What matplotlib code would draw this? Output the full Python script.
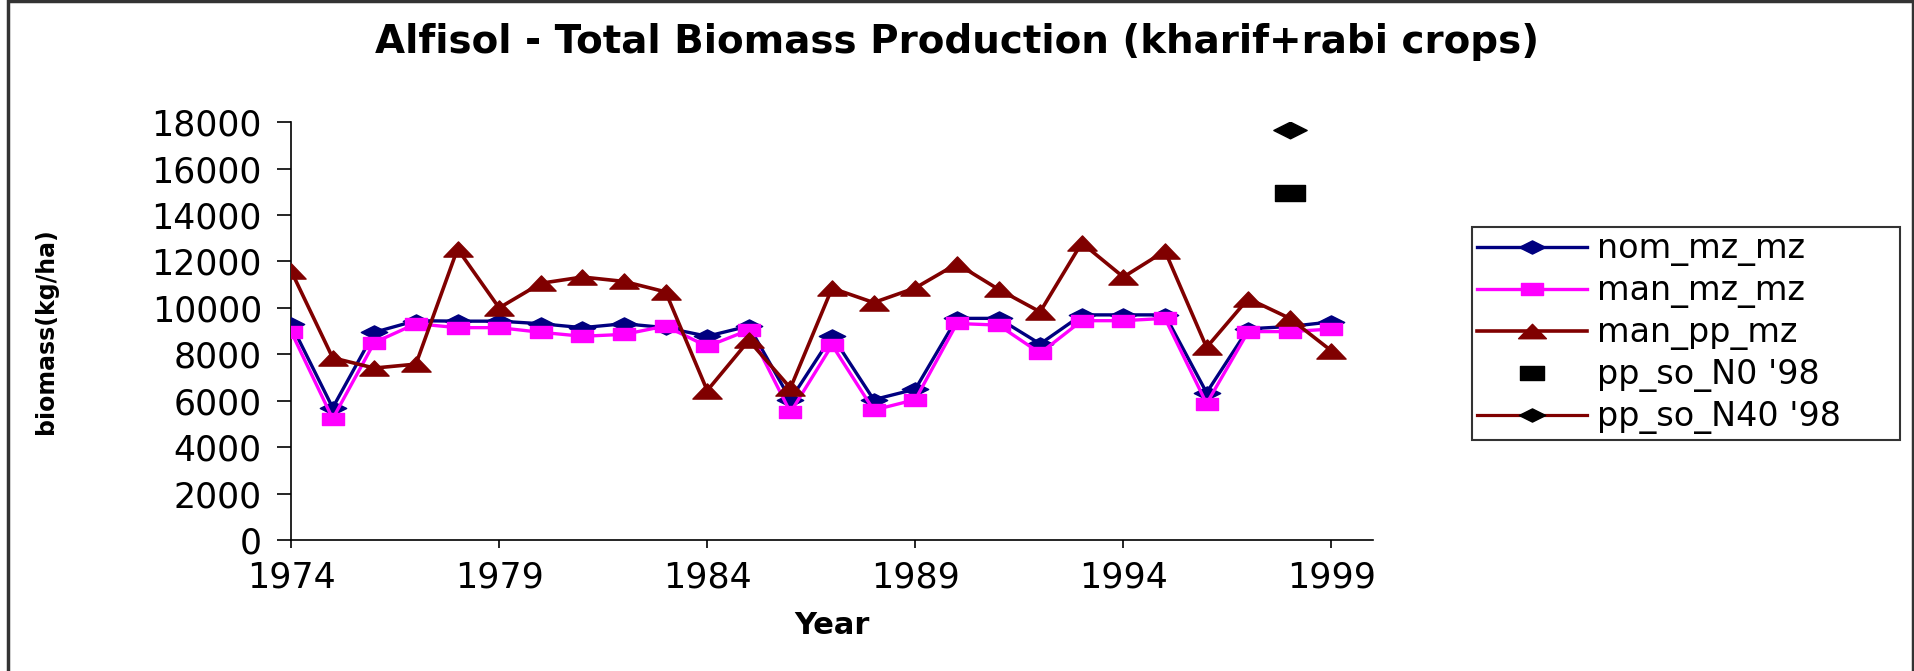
import matplotlib
matplotlib.use("Agg")
import matplotlib.pyplot as plt
from matplotlib.path import Path
from matplotlib.patches import Rectangle

years = list(range(1974, 2000))

nom_mz_mz = [9300, 5700, 8950, 9450, 9430, 9430, 9320, 9150, 9320, 9150, 8780, 9220,
             6050, 8800, 6050, 6500, 9550, 9550, 8450, 9700, 9700, 9700, 6350, 9100,
             9200, 9400]
man_mz_mz = [8980, 5230, 8510, 9320, 9150, 9150, 8950, 8780, 8860, 9220, 8340, 9050,
             5500, 8400, 5600, 6050, 9330, 9260, 8050, 9450, 9450, 9550, 5880, 8980,
             8980, 9090]
man_pp_mz = [11600, 7850, 7410, 7580, 12540, 10000, 11060, 11330, 11140, 10690, 6440, 8600,
             6550, 10850, 10230, 10860, 11900, 10800, 9830, 12800, 11330, 12450, 8300, 10400,
             9550, 8150]

pp_so_year = [1998]
pp_so_N0 = [14950]
pp_so_N40 = [17640]

# flattened marker shapes
flat_diamond = Path([(-1, 0), (0, 0.5), (1, 0), (0, -0.5), (-1, 0)],
                    [Path.MOVETO, Path.LINETO, Path.LINETO, Path.LINETO, Path.CLOSEPOLY])
flat_square = Path([(-1, -0.58), (1, -0.58), (1, 0.58), (-1, 0.58), (-1, -0.58)],
                   [Path.MOVETO, Path.LINETO, Path.LINETO, Path.LINETO, Path.CLOSEPOLY])
flat_triangle = Path([(-1, -0.52), (1, -0.52), (0, 0.52), (-1, -0.52)],
                     [Path.MOVETO, Path.LINETO, Path.LINETO, Path.CLOSEPOLY])

fig = plt.figure(figsize=(19.15, 6.71), dpi=100)
ax = fig.add_axes([0.152, 0.195, 0.565, 0.623])

ax.plot(years, nom_mz_mz, color="#000080", lw=2.4, marker=flat_diamond, ms=19,
        mec="#000080", mfc="#000080", label="nom_mz_mz", zorder=3)
ax.plot(years, man_mz_mz, color="#FF00FF", lw=2.4, marker=flat_square, ms=16,
        mec="#FF00FF", mfc="#FF00FF", label="man_mz_mz", zorder=4)
ax.plot(years, man_pp_mz, color="#800000", lw=2.6, marker=flat_triangle, ms=21,
        mec="#800000", mfc="#800000", label="man_pp_mz", zorder=5)
ax.plot(pp_so_year, pp_so_N0, ls="none", marker=flat_square, ms=21,
        color="black", label="pp_so_N0 '98", zorder=5)
ax.plot(pp_so_year, pp_so_N40, color="#800000", lw=2.3, marker=flat_diamond, ms=24,
        mec="black", mfc="black", label="pp_so_N40 '98", zorder=5)

ax.set_xlim(1974, 2000)
ax.set_ylim(0, 18000)
ax.set_xticks(range(1974, 2000, 5))
ax.set_yticks(range(0, 18001, 2000))
ax.tick_params(axis="both", labelsize=25, colors="black", width=1.2)
ax.tick_params(axis="y", direction="out", length=10, pad=11)
ax.tick_params(axis="x", direction="out", length=6, pad=9)
for s in ("top", "right"):
    ax.spines[s].set_visible(False)
for s in ("left", "bottom"):
    ax.spines[s].set_linewidth(1.2)
ax.set_xlabel("Year", fontsize=22, fontweight="bold", va="center")
ax.xaxis.set_label_coords(0.5, -0.205)
ax.set_ylabel("biomass(kg/ha)", fontsize=17, fontweight="bold")
ax.yaxis.set_label_coords(-0.215, 0.5)

fig.text(0.5, 0.937, "Alfisol - Total Biomass Production (kharif+rabi crops)",
         ha="center", va="center", fontsize=28, fontweight="bold")

leg = fig.legend(loc="upper left",
                 bbox_to_anchor=(1472 / 1915, 1 - 227 / 671, 428 / 1915, 0),
                 mode="expand", fontsize=24, frameon=True, fancybox=False,
                 borderaxespad=0, handlelength=3.3, handletextpad=0.3,
                 labelspacing=0.24, borderpad=0.16)
leg.get_frame().set_edgecolor("black")
leg.get_frame().set_linewidth(1.5)
for h, ms in zip(leg.legend_handles, [19, 16, 20, 17, 19]):
    h.set_markersize(ms)

# outer chart border
fig.patches.append(Rectangle((8 / 1915, -0.01), 1905 / 1915, 1.008, transform=fig.transFigure,
                             fill=False, edgecolor="#333333", linewidth=2.5))

fig.savefig("out.png", dpi=100)
